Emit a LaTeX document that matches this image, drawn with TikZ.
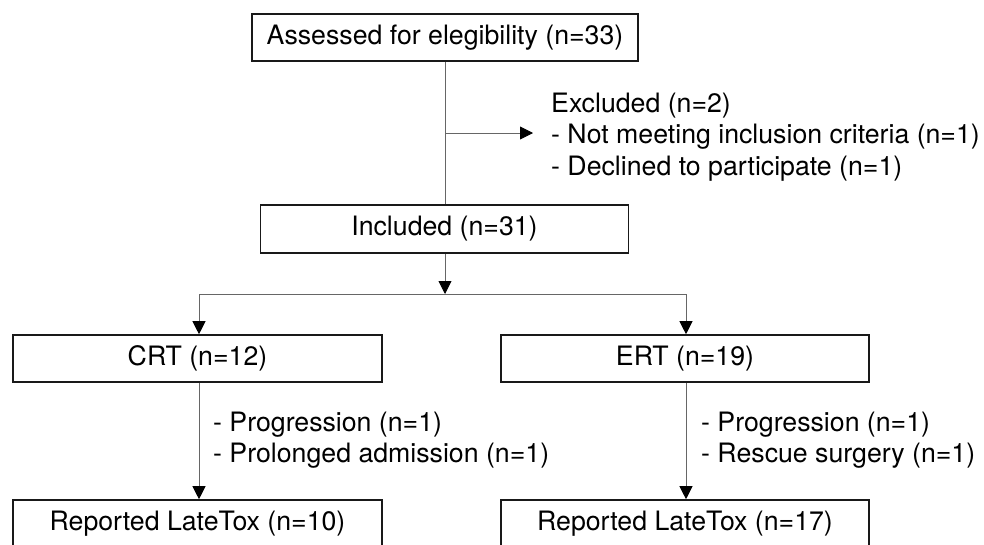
\documentclass[tikz,border=0pt]{standalone}
\usepackage{fontspec}
\setmainfont{TeX Gyre Heros}
\usetikzlibrary{arrows.meta}
\begin{document}
\begin{tikzpicture}[x=1pt,y=-1pt,
  font=\fontsize{26.7}{31.5}\selectfont,
  stagebox/.style={draw=black!90,line width=1.6pt,inner sep=0pt,minimum height=47pt,text=black},
  conn/.style={draw=black!60,line width=0.9pt},
  arr/.style={conn,-{Triangle[length=13pt,width=13pt,black]}},
  note/.style={align=left,inner sep=0pt,anchor=base west}]
\useasboundingbox (0,0) rectangle (984,544);
\clip (0,0) rectangle (984,544);
\fill[white] (0,0) rectangle (984,544);
\node[stagebox,minimum width=386pt] (assess) at (445,37.5) {Assessed for elegibility (n=33)};
\node[stagebox,minimum width=368pt,minimum height=48pt] (incl) at (444.5,229) {Included (n=31)};
\node[stagebox,minimum width=369pt] (crt) at (197.5,358.5) {CRT (n=12)};
\node[stagebox,minimum width=368pt] (ert) at (685,358.5) {ERT (n=19)};
\node[stagebox,minimum width=369pt] (repc) at (197.5,523.5) {Reported LateTox (n=10)};
\node[stagebox,minimum width=368pt] (repe) at (685,523.5) {Reported LateTox (n=17)};
\node[note] (excl) at (551,175) {Excluded (n=2)\\- Not meeting inclusion criteria (n=1)\\- Declined to participate (n=1)};
\node[note] (lossc) at (213,462.5) {- Progression (n=1)\\- Prolonged admission (n=1)};
\node[note] (losse) at (701,462.5) {- Progression (n=1)\\- Rescue surgery (n=1)};
\coordinate (branch) at (445,133);
\coordinate (exclend) at (533,133);
\coordinate (split) at (445,294);
\coordinate (splitl) at (199,294);
\coordinate (splitr) at (686,294);
\draw[conn] (assess.south -| branch) -- (incl.north -| branch);
\draw[arr] (branch) -- (exclend);
\draw[arr] (incl.south -| split) -- (split);
\draw[conn] (splitl) -- (splitr);
\draw[arr] (splitl) -- (crt.north -| splitl);
\draw[arr] (splitr) -- (ert.north -| splitr);
\draw[arr] (crt.south -| splitl) -- (repc.north -| splitl);
\draw[arr] (ert.south -| splitr) -- (repe.north -| splitr);
\end{tikzpicture}
\end{document}
